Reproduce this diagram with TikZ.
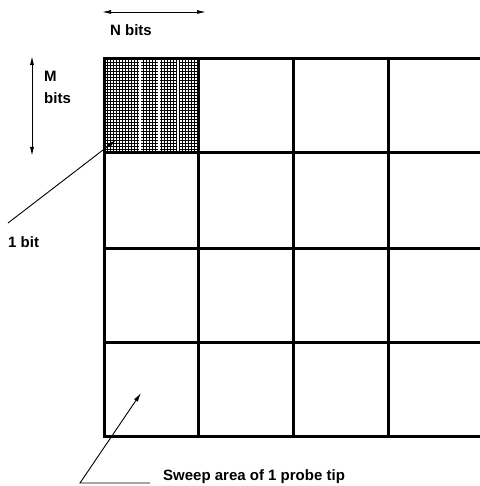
\documentclass[tikz,border=0pt]{standalone}
\usepackage{fontspec}
\setmainfont{Liberation Sans}
\usetikzlibrary{arrows.meta, positioning}

\begin{document}
\begin{tikzpicture}[
    x=1pt, y=-1pt,
    cellline/.style={line width=3pt, line cap=rect},
    hatch/.style={line width=0.9pt},
    lbl/.style={font=\bfseries\fontsize{15}{22}\selectfont, inner sep=0pt},
    arrow/.style={-{Latex[length=9pt, width=4.5pt]}, line width=0.9pt},
    dblarrow/.style={{Latex[length=9pt, width=4pt]}-{Latex[length=9pt, width=4pt]}, line width=0.9pt},
]
\useasboundingbox (0,0) rectangle (479,486);

%% GRID
    % bit pattern of the first cell
    \foreach \x in {104,107,...,197} \draw[hatch] (\x,59) -- (\x,153);
    \foreach \y in {59,62,...,153} \draw[hatch] (104,\y) -- (197,\y);
    \foreach \x in {140,159,178} \fill[white] (\x-0.7,60) rectangle (\x+0.7,152);

    % cell borders
    \foreach \x in {104,198,293,388} \draw[cellline] (\x,59) -- (\x,436);
    \foreach \y in {59,153,248,342,436} \draw[cellline] (104,\y) -- (478,\y);

%% NODES
    % N bits
    \node[lbl] (nbits) at (131,30) {N bits};
    \coordinate (nleft) at (102,12);
    \coordinate (nright) at (206,12);

    % M bits
    \node[lbl, align=left, anchor=north west] (mbits) at (44,71) {M\\bits};
    \coordinate (mtop) at (32,56);
    \coordinate (mbottom) at (32,156);

    % 1 bit
    \node[lbl, anchor=west] (onebit) at (8,242) {1 bit};
    \coordinate (bittail) at (8,223);
    \coordinate (bithead) at (116,140);

    % sweep area
    \node[lbl, anchor=west] (sweep) at (163,477) {Sweep area of 1 probe tip};
    \coordinate (sweeptail) at (150,483);
    \coordinate (sweepknee) at (80,483);
    \coordinate (sweephead) at (141,393);

%% CONNECTIONS
    \draw[dblarrow] (nleft) -- (nright);
    \draw[dblarrow] (mtop) -- (mbottom);
    \draw[arrow] (bittail) -- (bithead);
    \draw[arrow] (sweeptail) -- (sweepknee) -- (sweephead);

\end{tikzpicture}
\end{document}
